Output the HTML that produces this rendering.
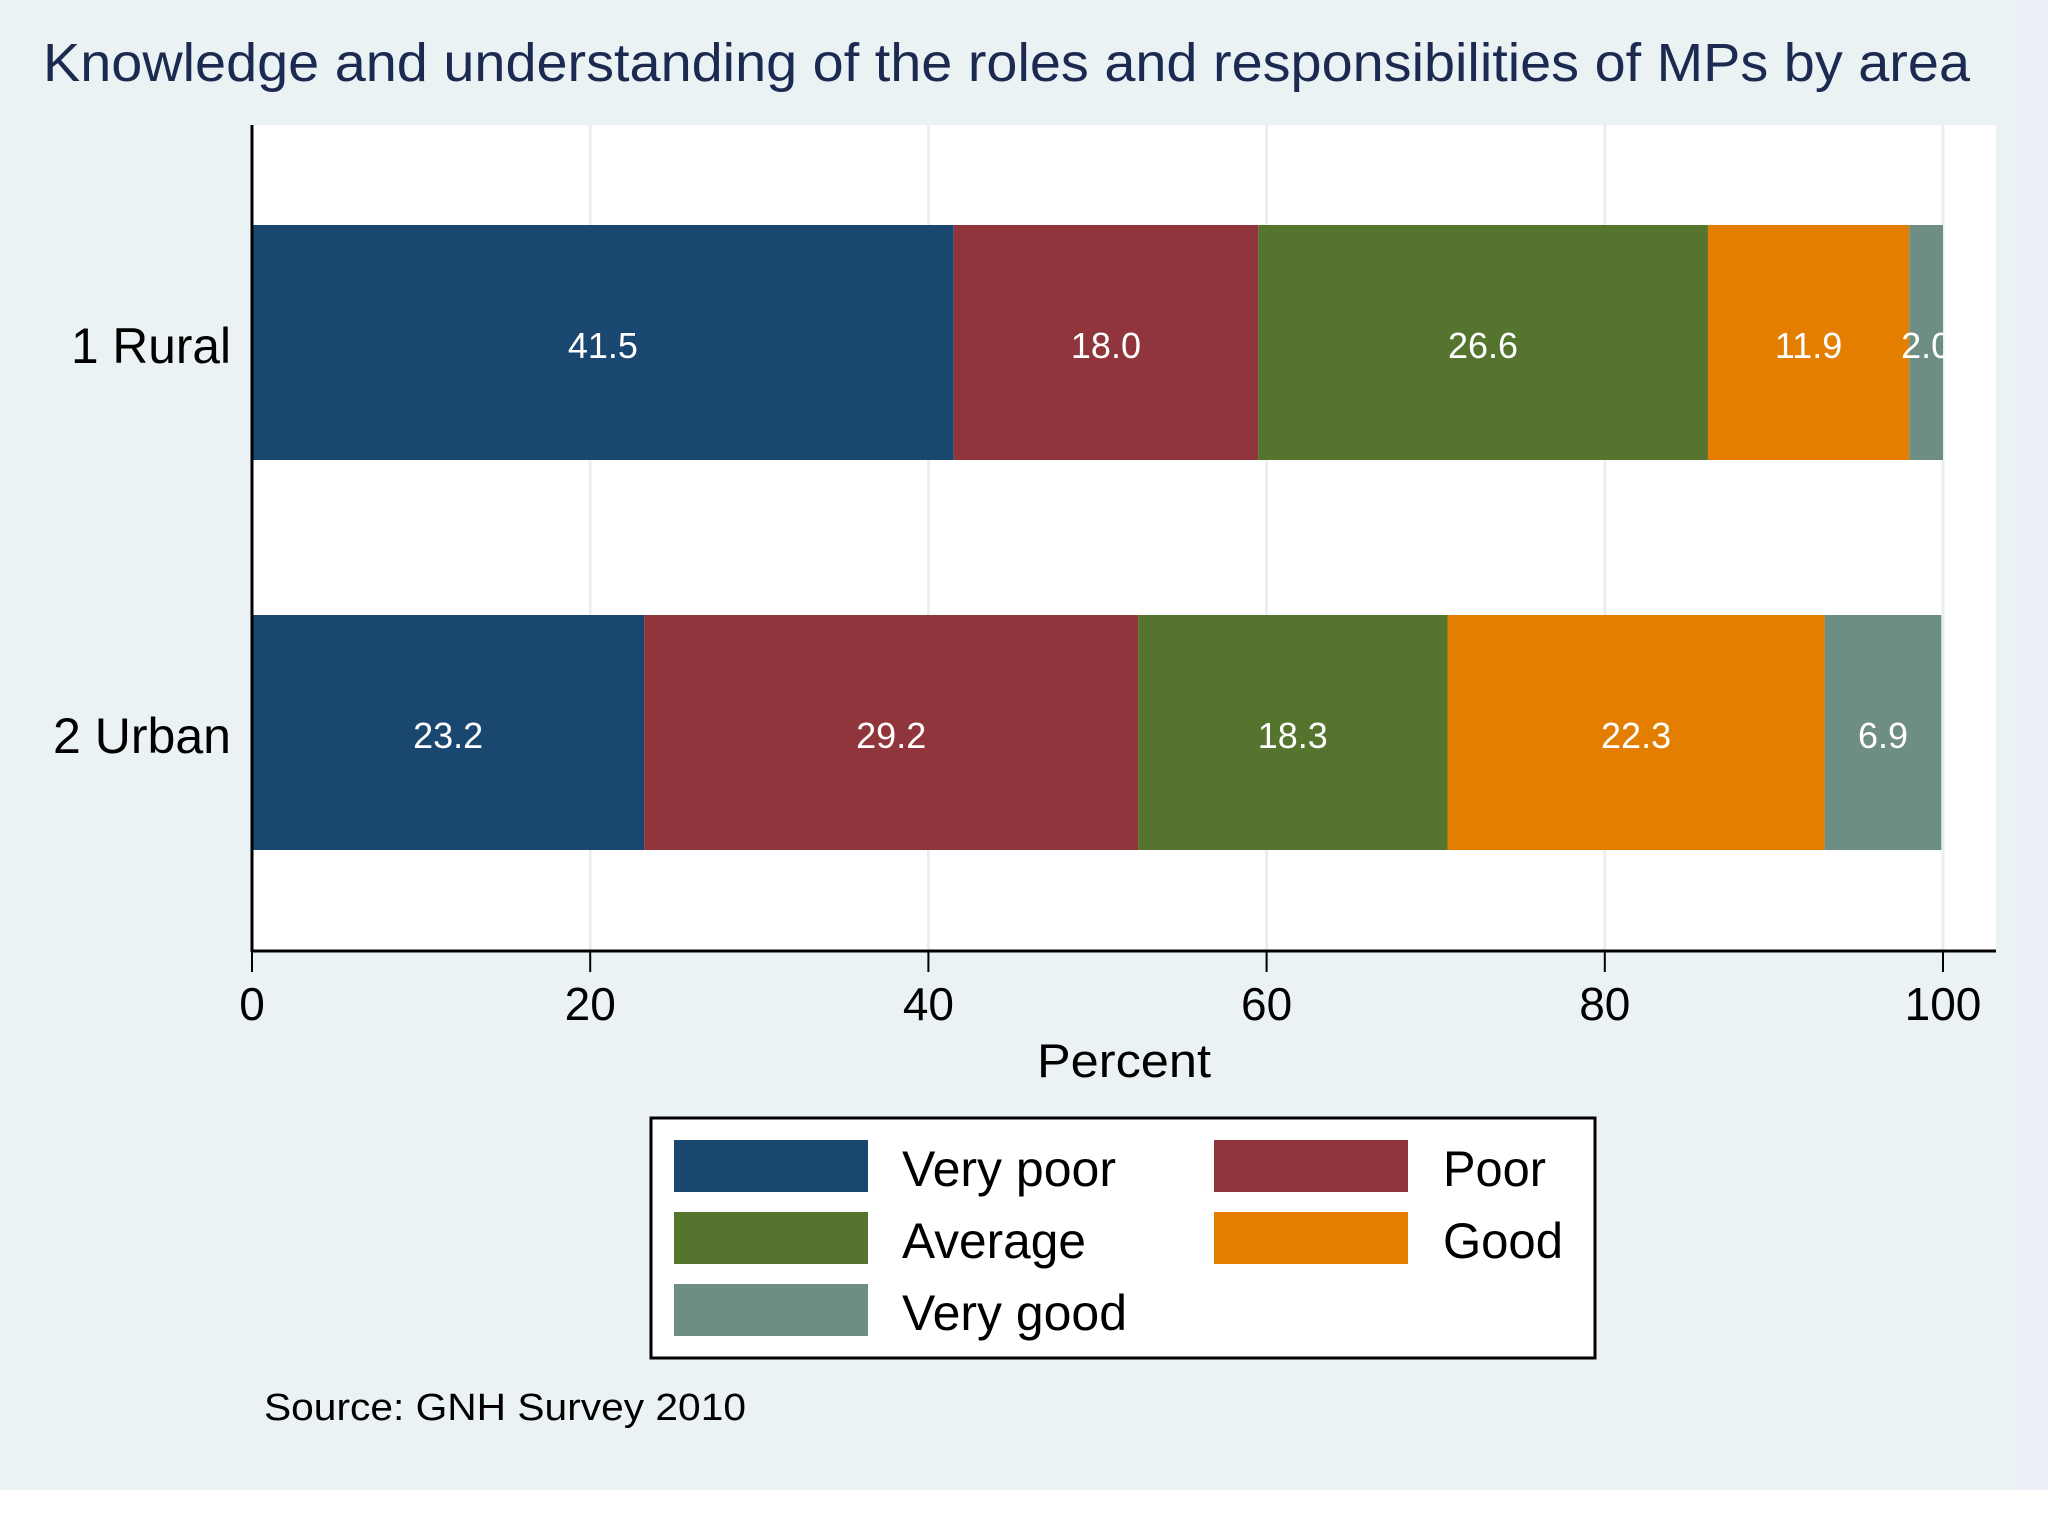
<!DOCTYPE html>
<html><head><meta charset="utf-8"><style>html,body{margin:0;padding:0;background:#fff}svg{display:block}text{font-family:"Liberation Sans",Arial,sans-serif}</style></head>
<body>
<svg id="chart" width="2048" height="1536" viewBox="0 0 2048 1536" xmlns="http://www.w3.org/2000/svg">
<rect x="0" y="0" width="2048" height="1490" fill="#eaf2f3"/>
<rect x="2015" y="0" width="33" height="1490" fill="#eaf0f6"/>
<text x="43" y="81" font-size="54" fill="#1c2a51" textLength="1927" lengthAdjust="spacingAndGlyphs">Knowledge and understanding of the roles and responsibilities of MPs by area</text>
<rect x="252" y="125" width="1744" height="825" fill="#ffffff"/>
<g id="grid"></g>
<g id="bars"></g>
<g id="axes"></g>
<text x="1124" y="1077" font-size="47" text-anchor="middle" fill="#000" textLength="174" lengthAdjust="spacingAndGlyphs">Percent</text>
<g>
<rect x="651" y="1118" width="944" height="240" fill="#fff" stroke="#000" stroke-width="3"/>
<g id="legend-items"></g>
</g>
<text x="264" y="1420" font-size="38" fill="#000" textLength="482" lengthAdjust="spacingAndGlyphs">Source: GNH Survey 2010</text>
</svg>
<script>
const categories = ["1 Rural", "2 Urban"];
const seriesNames = ["Very poor", "Poor", "Average", "Good", "Very good"];
const veryPoor = [41.5, 23.2];
const poor = [18.0, 29.2];
const average = [26.6, 18.3];
const good = [11.9, 22.3];
const veryGood = [2.0, 6.9];
const xTicks = [0, 20, 40, 60, 80, 100];
const colors = ["#1a476f", "#90353b", "#55752f", "#e37e00", "#6e8e84"];
const series = [veryPoor, poor, average, good, veryGood];
const NS = "http://www.w3.org/2000/svg";
function x(v){ return 252 + v * (1943 - 252) / 100; }
function yBand(i){ return 225 + i * 390; }
const barH = 235;
function mk(tag, attrs, parent){ const e = document.createElementNS(NS, tag); for (const k in attrs) e.setAttribute(k, attrs[k]); parent.appendChild(e); return e; }
const grid = document.getElementById('grid'), bars = document.getElementById('bars'), axes = document.getElementById('axes');
xTicks.forEach(t => {
  if (t > 0) { const g = mk('line', {x1:x(t), x2:x(t), y1:125, y2:950, stroke:'#e8eff2', 'stroke-width':3}, grid);
    
     }
  const tk = mk('line', {x1:x(t), x2:x(t), y1:950, y2:972, stroke:'#000', 'stroke-width':2}, axes);
  
  
  const tl = mk('text', {x:x(t), y:1020, 'font-size':46, 'text-anchor':'middle', fill:'#000'}, axes);
  tl.textContent = String(t);
  
  
});
categories.forEach((c, i) => {
  let cum = 0;
  series.forEach((s, j) => {
    const v = s[i];
    const r = mk('rect', {x:x(cum), y:yBand(i), width:x(cum+v)-x(cum), height:barH, fill:colors[j]}, bars);
    
    
    const lb = mk('text', {x:(x(cum)+x(cum+v))/2, y:yBand(i)+133, 'font-size':36, 'text-anchor':'middle', fill:'#fff'}, bars);
    lb.textContent = v.toFixed(1);
    
    
    cum += v;
  });
  const yl = mk('text', {x:231, y:yBand(i)+138, 'font-size':50, 'text-anchor':'end', fill:'#000', textLength: i===0?160:178, lengthAdjust:'spacingAndGlyphs'}, axes);
  yl.textContent = c;
  
  
});
const ax1 = mk('line', {x1:252, x2:252, y1:125, y2:952, stroke:'#000', 'stroke-width':3}, axes);


const ax2 = mk('line', {x1:251, x2:1996, y1:951, y2:951, stroke:'#000', 'stroke-width':3}, axes);


const leg = document.getElementById('legend-items');
const legW = [214, 103, 184, 120, 225];
seriesNames.forEach((n, j) => {
  const col = j % 2, row = Math.floor(j / 2);
  const sx = col === 0 ? 674 : 1214, ty = 1140 + row * 72;
  const sw = mk('rect', {x:sx, y:ty, width:194, height:52, fill:colors[j]}, leg);
  
  
  const tx = mk('text', {x: col === 0 ? 902 : 1443, y: ty + 46, 'font-size':50, fill:'#000', textLength:legW[j], lengthAdjust:'spacingAndGlyphs'}, leg);
  tx.textContent = n;
  
  
});
</script>
</body></html>
